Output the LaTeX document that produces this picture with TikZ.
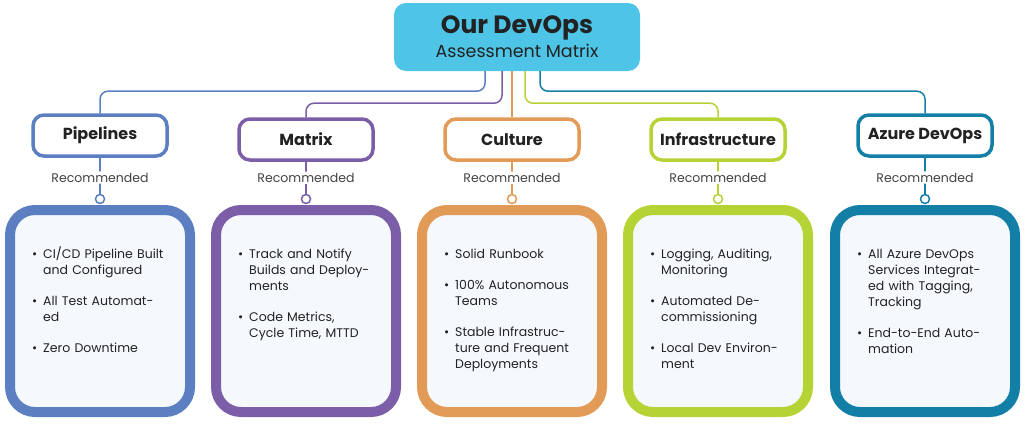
\documentclass[tikz,border=0pt]{standalone}
\usepackage{fontspec}
\setmainfont{Poppins}
\usepackage{xcolor}
\usetikzlibrary{positioning,calc}

\definecolor{topfill}{HTML}{4EC4E6}
\definecolor{colPipe}{HTML}{5B7FC1}
\definecolor{colMat}{HTML}{7C5EA8}
\definecolor{colCul}{HTML}{E29B57}
\definecolor{colInf}{HTML}{B6D335}
\definecolor{colAz}{HTML}{147FA6}
\definecolor{cardfill}{HTML}{F5F8FD}
\definecolor{ink}{HTML}{222222}

\newcommand{\bul}[1]{\par\hangindent=11pt\hangafter=1\noindent\makebox[11pt][l]{\textbullet}#1\par}

\tikzset{
	head/.style={draw, line width=3.5pt, rounded corners=11pt, fill=white,
		minimum width=134pt, minimum height=41pt, text=ink,
		font=\fontsize{16}{18}\selectfont\bfseries},
	card/.style={draw, line width=10pt, rounded corners=25pt, fill=cardfill,
		minimum width=180pt, minimum height=202pt},
	knob/.style={circle, draw, fill=white, line width=1.5pt, minimum size=9pt, inner sep=0pt},
	link/.style={line width=1.5pt, rounded corners=8pt},
	rec/.style={fill=white, inner sep=1.5pt, text=ink!85, font=\fontsize{12.5}{14}\selectfont},
	items/.style={anchor=north west, inner sep=0pt, text width=150pt, text=ink,
		font=\fontsize{12.5}{16}\selectfont,
		execute at begin node={\raggedright\setlength{\parskip}{15pt}}}
}

\begin{document}
\begin{tikzpicture}[x=1pt,y=-1pt]
		\useasboundingbox (0,0) rectangle (1024,423);
		\node[fill=topfill, rounded corners=12pt, minimum width=246pt, minimum height=68pt,
			align=center, text=ink, inner sep=0pt] (top) at (517,37)
			{{\fontsize{25}{28}\selectfont\bfseries Our DevOps}\\[3pt]{\fontsize{17.5}{20}\selectfont Assessment Matrix}};
		%
		% headers
		\node[head, draw=colPipe] (hPipe) at (100,135.5) {\raisebox{-2pt}{Pipelines}};
		\node[head, draw=colMat] (hMat) at (306,139.5) {\raisebox{-2pt}{Matrix}};
		\node[head, draw=colCul] (hCul) at (512,139.5) {\raisebox{-2pt}{Culture}};
		\node[head, draw=colInf] (hInf) at (718,139.5) {\raisebox{-2pt}{Infrastructure}};
		\node[head, draw=colAz] (hAz) at (925,135.5) {\raisebox{-2pt}{Azure DevOps}};
		%
		% cards
		\node[card, draw=colPipe] (bPipe) at (100,311) {};
		\node[card, draw=colMat] (bMat) at (306,311) {};
		\node[card, draw=colCul] (bCul) at (512,311) {};
		\node[card, draw=colInf] (bInf) at (718,311) {};
		\node[card, draw=colAz] (bAz) at (925,311) {};
		%
		% knobs
		\node[knob, draw=colPipe] (kPipe) at (100,199) {};
		\node[knob, draw=colMat] (kMat) at (306,199) {};
		\node[knob, draw=colCul] (kCul) at (512,199) {};
		\node[knob, draw=colInf] (kInf) at (718,199) {};
		\node[knob, draw=colAz] (kAz) at (925,199) {};
		%
		% links from the top box
		\draw[link, colPipe] ([xshift=-32pt]top.south) -- ++(0,20) -| (hPipe.north);
		\draw[link, colMat] ([xshift=-15pt]top.south) -- ++(0,32) -| (hMat.north);
		\draw[link, colCul] (top.south -| hCul.north) -- (hCul.north);
		\draw[link, colInf] ([xshift=8pt]top.south) -- ++(0,32) -| (hInf.north);
		\draw[link, colAz] ([xshift=23pt]top.south) -- ++(0,20) -| (hAz.north);
		%
		% recommended
		\draw[link, colPipe] (hPipe.south) -- node[rec, pos=0.55]{Recommended} (kPipe.north);
		\draw[link, colMat] (hMat.south) -- node[rec, pos=0.5]{Recommended} (kMat.north);
		\draw[link, colCul] (hCul.south) -- node[rec, pos=0.5]{Recommended} (kCul.north);
		\draw[link, colInf] (hInf.south) -- node[rec, pos=0.5]{Recommended} (kInf.north);
		\draw[link, colAz] (hAz.south) -- node[rec, pos=0.55]{Recommended} (kAz.north);
		%
		% card texts
		\node[items] (tPipe) at ([shift={(27,22)}]bPipe.north west)
			{\bul{CI/CD Pipeline Built\newline and Configured}
			 \bul{All Test Automat-\newline ed}
			 \bul{Zero Downtime}};
		\node[items] (tMat) at ([shift={(27,22)}]bMat.north west)
			{\bul{Track and Notify\newline Builds and Deploy-\newline ments}
			 \bul{Code Metrics,\newline Cycle Time, MTTD}};
		\node[items] (tCul) at ([shift={(27,22)}]bCul.north west)
			{\bul{Solid Runbook}
			 \bul{100\% Autonomous\newline Teams}
			 \bul{Stable Infrastruc-\newline ture and Frequent\newline Deployments}};
		\node[items] (tInf) at ([shift={(27,22)}]bInf.north west)
			{\bul{Logging, Auditing,\newline Monitoring}
			 \bul{Automated De-\newline commissioning}
			 \bul{Local Dev Environ-\newline ment}};
		\node[items] (tAz) at ([shift={(27,22)}]bAz.north west)
			{\bul{All Azure DevOps\newline Services Integrat-\newline ed with Tagging,\newline Tracking}
			 \bul{End-to-End Auto-\newline mation}};
\end{tikzpicture}
\end{document}
